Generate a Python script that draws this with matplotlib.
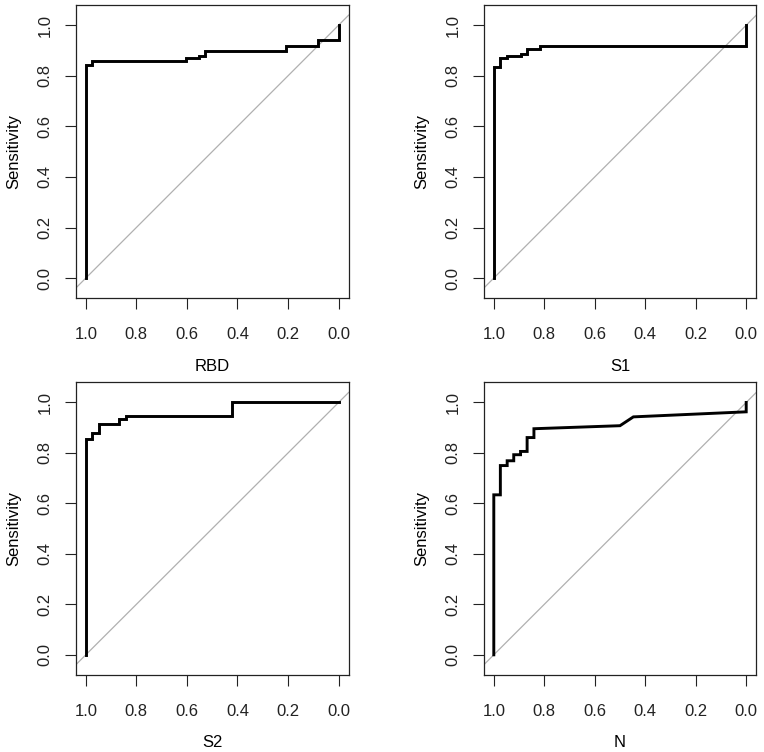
import matplotlib
matplotlib.use("Agg")
import matplotlib.pyplot as plt

plt.rcParams['font.family'] = ['Liberation Sans', 'DejaVu Sans']

# ---- data (specificity, sensitivity) ----
panel_names = ["RBD", "S1", "S2", "N"]

rbd_spec = [1, 1, 0.974, 0.974, 0.604, 0.604, 0.554, 0.554, 0.528, 0.528, 0.208, 0.208, 0.080, 0.080, 0, 0]
rbd_sens = [0, 0.844, 0.844, 0.857, 0.857, 0.870, 0.870, 0.878, 0.878, 0.897, 0.897, 0.918, 0.918, 0.943, 0.943, 1.0]

s1_spec = [1, 1, 0.974, 0.974, 0.947, 0.947, 0.894, 0.894, 0.868, 0.868, 0.815, 0.815, 0, 0]
s1_sens = [0, 0.834, 0.834, 0.872, 0.872, 0.878, 0.878, 0.887, 0.887, 0.907, 0.907, 0.918, 0.918, 1.0]

s2_spec = [1, 1, 0.974, 0.974, 0.947, 0.947, 0.868, 0.868, 0.842, 0.842, 0.578, 0.578, 0.420, 0.420, 0]
s2_sens = [0, 0.855, 0.855, 0.881, 0.881, 0.914, 0.914, 0.934, 0.934, 0.945, 0.945, 0.948, 0.948, 1.0, 1.0]

n_spec = [1, 1, 0.974, 0.974, 0.947, 0.947, 0.921, 0.921, 0.894, 0.894, 0.868, 0.868, 0.841, 0.841, 0.5, 0.447, 0, 0]
n_sens = [0, 0.634, 0.634, 0.750, 0.750, 0.769, 0.769, 0.793, 0.793, 0.806, 0.806, 0.861, 0.861, 0.896, 0.908, 0.943, 0.963, 1.0]

curves = [(rbd_spec, rbd_sens), (s1_spec, s1_sens), (s2_spec, s2_sens), (n_spec, n_sens)]

tick_vals = [1.0, 0.8, 0.6, 0.4, 0.2, 0.0]
tick_labels = ["1.0", "0.8", "0.6", "0.4", "0.2", "0.0"]

# ---- layout (pixel boxes: left, top, right, bottom) ----
W, H = 764, 752
boxes = [(75.7, 5, 348.7, 298.3), (483.7, 5, 756.3, 298.3),
         (75.7, 382.3, 348.7, 675), (483.7, 382.3, 756.3, 675)]

fig = plt.figure(figsize=(W / 100, H / 100), dpi=100)

for (l, t, r, b), name, (sx, sy) in zip(boxes, panel_names, curves):
    ax = fig.add_axes([l / W, 1 - b / H, (r - l) / W, (b - t) / H])
    ax.set_xlim(1.04, -0.04)
    ax.set_ylim(-0.08, 1.08)
    ax.axline((1, 0), (0, 1), color="#b0b0b0", lw=0.9, zorder=1)
    ax.plot(sx, sy, color="black", lw=2.1, zorder=2, solid_joinstyle="miter")
    ax.set_xticks(tick_vals)
    ax.set_xticklabels(tick_labels)
    ax.set_yticks(tick_vals[::-1])
    ax.set_yticklabels(tick_labels[::-1])
    ax.tick_params(direction="out", length=7.6, width=0.8, labelsize=12, colors="#222222")
    ax.tick_params(axis="x", pad=13)
    ax.tick_params(axis="y", pad=9)
    for lab in ax.get_yticklabels():
        lab.set_rotation(90)
        lab.set_va("center")
    for s in ax.spines.values():
        s.set_linewidth(0.9)
        s.set_color("#222222")
    ax.set_xlabel(name, fontsize=12, labelpad=12)
    ax.set_ylabel("Sensitivity", fontsize=12, labelpad=12)

fig.savefig("out.png", dpi=100)
